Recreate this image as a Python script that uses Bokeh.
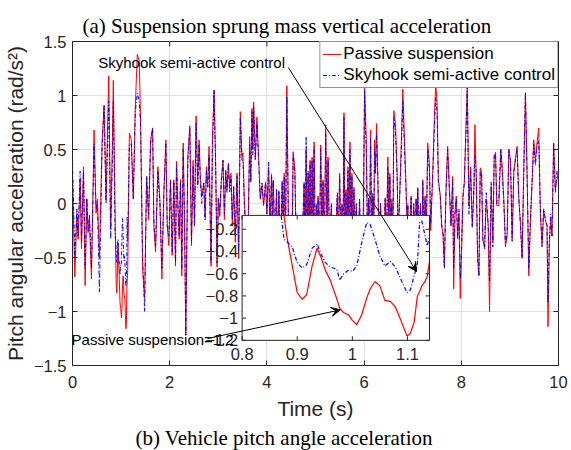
import numpy as np
from bokeh.plotting import figure
from bokeh.models import (Range1d, Label, Arrow, VeeHead, Legend, LegendItem,
                          ColumnDataSource, FixedTicker, Title)
from bokeh.embed import file_html
from bokeh.resources import INLINE
from bokeh.core.properties import value

# ---------------- data ----------------
time_s = [
    0.000, 0.048, 0.089, 0.116, 0.157, 0.185, 0.226, 0.260, 0.294, 0.321,
    0.349, 0.390, 0.444, 0.485, 0.513, 0.554, 0.608, 0.650, 0.690, 0.745,
    0.786,
    0.800, 0.820, 0.840, 0.860, 0.871, 0.876, 0.881, 0.891, 0.900, 0.909,
    0.917, 0.927, 0.936, 0.943, 0.951, 0.960, 0.972, 0.977, 0.984, 0.993,
    1.000, 1.008, 1.017, 1.026, 1.032, 1.041, 1.050, 1.059, 1.069, 1.078,
    1.088, 1.099, 1.105, 1.112, 1.118, 1.122, 1.126, 1.132, 1.136, 1.140,
    1.170, 1.210, 1.251, 1.292, 1.333, 1.374, 1.402, 1.443, 1.484, 1.525,
    1.566, 1.607, 1.648, 1.675, 1.709, 1.757, 1.798, 1.839, 1.880, 1.921,
    1.949, 1.983, 2.017, 2.051, 2.085, 2.120, 2.140, 2.168, 2.195, 2.222,
    2.249, 2.277, 2.304, 2.331, 2.373, 2.414, 2.448, 2.482, 2.510, 2.543,
    2.577, 2.605, 2.632, 2.660, 2.701, 2.728, 2.755, 2.783, 2.810, 2.851,
    2.879, 2.913, 2.947, 2.974, 3.001, 3.029, 3.063, 3.097, 3.125, 3.152,
    3.179, 3.207, 3.234, 3.261, 3.289, 3.316, 3.350, 3.385, 3.419, 3.453,
    3.487, 3.508, 3.535, 3.563, 3.600, 3.645, 3.668, 3.693, 3.710, 3.727,
    3.761, 3.795, 3.829, 3.864, 3.898, 3.932, 3.973, 4.000, 4.035, 4.062,
    4.096, 4.113, 4.130, 4.164, 4.198, 4.219, 4.246, 4.280, 4.315, 4.335,
    4.356, 4.383, 4.410, 4.451, 4.506, 4.540, 4.575, 4.610, 4.677, 4.720,
    4.766, 4.787, 4.807, 4.827, 4.848, 4.868, 4.889, 4.909, 4.930, 4.950,
    4.971, 4.998, 5.018, 5.039, 5.052, 5.080, 5.107, 5.135, 5.155, 5.182,
    5.210, 5.237, 5.258, 5.292, 5.326, 5.360, 5.395, 5.450, 5.470, 5.497,
    5.525, 5.545, 5.566, 5.586, 5.607, 5.627, 5.648, 5.668, 5.689, 5.709,
    5.730, 5.750, 5.770, 5.791, 5.810, 5.839, 5.873, 5.907, 5.940, 5.980,
    6.010, 6.044, 6.072, 6.092, 6.113, 6.133, 6.160, 6.181, 6.200, 6.215,
    6.235, 6.256, 6.284, 6.310, 6.338, 6.386, 6.434, 6.460, 6.489, 6.510,
    6.530, 6.550, 6.571, 6.590, 6.612, 6.646, 6.680, 6.700, 6.728, 6.762,
    6.797, 6.831, 6.865, 6.885, 6.899, 6.930, 6.967, 6.990, 7.022, 7.050,
    7.070, 7.090, 7.104, 7.130, 7.159, 7.190, 7.207, 7.230, 7.255, 7.280,
    7.309, 7.344, 7.370, 7.412, 7.446, 7.473, 7.501, 7.528, 7.569, 7.597,
    7.624, 7.651, 7.685, 7.719, 7.754, 7.788, 7.822, 7.843, 7.870, 7.897,
    7.925, 7.952, 7.979, 8.006, 8.034, 8.062, 8.096, 8.123, 8.157, 8.192,
    8.226, 8.260, 8.280, 8.308, 8.335, 8.362, 8.390, 8.417, 8.444, 8.479,
    8.513, 8.554, 8.581, 8.615, 8.650, 8.677, 8.704, 8.731, 8.772, 8.813,
    8.841, 8.875, 8.909, 8.944, 8.978, 9.012, 9.046, 9.080, 9.115, 9.149,
    9.183, 9.217, 9.251, 9.286, 9.320, 9.354, 9.388, 9.422, 9.456, 9.490,
    9.525, 9.559, 9.593, 9.627, 9.661, 9.696, 9.730, 9.764, 9.784, 9.812,
    9.839, 9.866, 9.900, 9.935, 9.969, 10.000,
]

passive = [
    0.25, -0.68, -0.09, -0.33, 0.22, -0.42, 0.34, -0.76, 0.04, -0.27,
    -0.15, -0.70, 0.68, -0.09, 0.04, -0.51, 0.57, 0.91, 0.04, 1.18,
    -0.24,
    0.10, 0.55, 1.14, 0.45, 0.10, -0.08, -0.26, -0.53, -0.77, -0.83,
    -0.79, -0.53, -0.37, -0.45, -0.57, -0.66, -0.83, -0.91, -0.95, -0.97,
    -1.02, -1.06, -0.97, -0.82, -0.74, -0.67, -0.71, -0.84, -0.85, -0.90,
    -1.02, -1.16, -1.14, -1.04, -0.80, -0.76, -0.71, -0.67, -0.62, -0.49,
    0.65, 0.59, 0.04, 0.89, 1.38, 1.32, 0.74, -0.61, -0.88, 0.25,
    -0.15, 0.59, 0.70, -0.21, -0.45, 0.34, 0.04, -0.70, 0.10, 0.59,
    -0.21, -0.39, 0.22, -0.48, 0.22, -0.58, 0.39, -0.02, -0.33, 0.22,
    -0.67, 0.56, -0.15, -1.22, 0.43, 0.72, -0.39, 0.40, -0.21, 0.81,
    0.19, 0.59, 0.22, 0.07, 0.19, -0.12, 0.34, 0.16, 0.53, -0.58,
    0.59, 1.05, 0.34, -0.59, 0.04, -0.12, 0.22, 0.40, -0.15, 0.31,
    0.13, 0.37, 0.16, 0.28, -0.21, 0.16, -0.36, 0.28, -0.51, 0.85,
    0.43, 0.47, 0.04, -0.21, -0.65, 0.62, 0.20, 0.88, 0.50, 0.94,
    0.43, 0.80, 0.43, 0.04, 0.16, -0.02, 0.19, -0.09, 0.34, -0.25,
    0.25, -0.30, 0.21, -0.40, 0.11, -0.50, 0.11, -0.45, 0.21, -0.30,
    0.28, -0.35, 1.09, -0.50, -0.80, 0.48, 0.31, -0.60, -0.90, -0.50,
    0.19, -0.40, 0.50, -0.40, 0.28, -0.30, 0.40, -0.40, 0.43, -0.30,
    0.57, -0.50, -0.02, -0.40, 0.07, -0.50, 0.54, -0.40, 0.22, -0.50,
    0.73, -0.30, 0.43, -0.50, -0.02, -0.70, -0.50, 0.07, -0.40, 0.28,
    -0.50, -0.02, -0.40, 0.84, -0.50, 0.13, -0.40, 0.34, -0.30, 0.57,
    -0.40, 0.28, -0.50, 0.13, -0.40, -0.02, -0.60, 0.01, -0.70, -0.30,
    1.08, 0.59, -0.40, 0.04, -0.40, 0.68, -0.50, 0.07, -0.30, 0.59,
    0.30, 0.74, 0.22, -0.50, -0.02, -0.70, 0.04, -0.40, 0.43, -0.30,
    0.28, -0.40, 0.04, -0.50, 0.86, 0.74, 0.28, -0.30, 0.02, 0.50,
    1.06, 0.59, 0.13, -0.30, -0.02, -0.50, 0.07, -0.40, -0.02, -0.50,
    0.04, -0.30, 0.13, -0.40, -0.02, -0.50, 0.22, -0.40, 0.07, -0.30,
    0.56, 0.37, -0.25, 0.28, 0.80, 1.10, 0.95, 0.22, 0.07, -0.21,
    -0.30, -0.58, 0.13, 0.53, 0.13, -0.21, 0.25, -0.79, -0.09, 0.07,
    -0.33, -0.09, -0.88, -0.45, 0.07, 0.19, 0.71, 1.08, -0.02, 0.34,
    -0.21, 0.13, 0.73, 0.22, -0.48, -0.67, 0.33, 0.28, -0.33, -0.42,
    0.04, -0.21, -1.00, 0.16, -0.36, 0.43, 0.47, -0.02, -0.02, 0.50,
    0.34, 0.04, -0.39, -0.30, 0.50, 0.40, -0.33, 0.28, 0.43, 0.53,
    0.04, -0.18, -0.51, 0.34, 1.02, 0.28, -0.67, -0.18, 0.19, 0.59,
    0.40, 0.56, 0.70, -0.09, -0.38, -0.07, -0.15, -0.21, -1.14, -0.36,
    -0.15, -0.30, 0.56, 0.13, 0.22, 0.30,
]

skyhook = [
    0.39, -0.50, -0.05, -0.30, 0.30, -0.35, 0.30, -0.60, 0.05, -0.25,
    -0.10, -0.60, 0.55, -0.05, 0.00, -0.82, 0.50, 0.90, 0.00, 0.95,
    -0.33,
    0.00, 0.35, 0.95, 0.30, -0.08, -0.29, -0.31, -0.36, -0.50, -0.55,
    -0.52, -0.37, -0.33, -0.42, -0.50, -0.54, -0.56, -0.66, -0.60, -0.57,
    -0.58, -0.53, -0.32, -0.14, -0.155, -0.29, -0.44, -0.53, -0.49, -0.54,
    -0.65, -0.77, -0.75, -0.62, -0.51, -0.14, -0.125, -0.26, -0.35, -0.26,
    0.55, 0.55, 0.05, 0.85, 1.02, 0.95, 0.70, -0.50, -1.00, 0.25,
    -0.10, 0.55, 0.70, -0.20, -0.40, 0.30, 0.00, -0.60, 0.10, 0.55,
    -0.20, -0.30, 0.20, -0.45, 0.20, -0.55, 0.35, 0.00, -0.30, 0.20,
    -0.60, 0.50, -0.10, -1.20, 0.40, 0.70, -0.35, 0.35, -0.20, 0.75,
    0.15, 0.55, 0.20, 0.00, 0.20, -0.16, 0.30, 0.15, 0.45, -0.55,
    0.50, 1.05, 0.30, -0.55, 0.05, -0.10, 0.20, 0.40, -0.10, 0.30,
    0.10, 0.37, 0.10, 0.25, -0.15, 0.15, -0.30, 0.25, -0.45, 0.80,
    0.40, 0.40, 0.00, -0.30, -0.60, 0.55, 0.20, 0.85, 0.45, 0.90,
    0.40, 0.75, 0.40, 0.05, 0.20, 0.00, 0.20, -0.10, 0.38, -0.20,
    0.28, -0.25, 0.22, -0.35, 0.14, -0.45, 0.12, -0.40, 0.20, -0.30,
    0.25, -0.30, 0.99, -0.45, -0.70, 0.45, 0.30, -0.50, -0.80, -0.45,
    0.20, -0.35, 0.62, -0.35, 0.30, -0.30, 0.38, -0.35, 0.40, -0.30,
    0.52, -0.45, 0.00, -0.35, 0.05, -0.45, 0.50, -0.35, 0.20, -0.45,
    0.65, -0.30, 0.40, -0.45, 0.00, -0.60, -0.45, 0.10, -0.35, 0.25,
    -0.45, 0.00, -0.35, 0.80, -0.45, 0.10, -0.35, 0.30, -0.30, 0.50,
    -0.35, 0.25, -0.45, 0.15, -0.35, 0.00, -0.50, 0.05, -0.60, -0.25,
    1.05, 0.50, -0.35, 0.05, -0.35, 0.60, -0.45, 0.10, -0.25, 0.50,
    0.28, 0.65, 0.20, -0.45, 0.00, -0.60, 0.05, -0.35, 0.34, -0.25,
    0.25, -0.35, 0.00, -0.45, 0.80, 0.65, 0.25, -0.25, 0.00, 0.45,
    0.95, 0.50, 0.10, -0.25, 0.00, -0.45, 0.05, -0.35, 0.00, -0.45,
    0.05, -0.25, 0.15, -0.35, 0.00, -0.45, 0.20, -0.35, 0.05, -0.25,
    0.50, 0.30, -0.20, 0.25, 0.70, 0.98, 0.85, 0.20, 0.05, -0.20,
    -0.25, -0.60, 0.10, 0.50, 0.15, -0.20, 0.20, -0.60, -0.10, 0.05,
    -0.30, -0.05, -0.70, -0.40, 0.05, 0.20, 0.65, 1.08, -0.10, 0.30,
    -0.22, 0.15, 0.45, 0.30, -0.50, -0.67, 0.30, 0.30, -0.35, -0.40,
    0.10, -0.20, -0.72, 0.20, -0.40, 0.45, 0.47, 0.00, 0.05, 0.50,
    0.30, 0.00, -0.40, -0.25, 0.50, 0.40, -0.35, 0.30, 0.40, 0.50,
    0.05, -0.20, -0.50, 0.30, 1.03, 0.25, -0.60, -0.15, 0.20, 0.55,
    0.35, 0.55, 0.58, -0.05, -0.40, -0.05, -0.15, -0.20, -0.92, -0.35,
    -0.10, -0.30, 0.56, 0.10, 0.30, 0.25,
]
assert len(time_s) == len(passive) == len(skyhook), (len(time_s), len(passive), len(skyhook))

series_names = ["Passive suspension", "Skyhook semi-active control"]
x_ticks = [0, 2, 4, 6, 8, 10]
x_tick_labels = ["0", "2", "4", "6", "8", "10"]
y_ticks = [-1.5, -1, -0.5, 0, 0.5, 1, 1.5]
y_tick_labels = ["\u22121.5", "\u22121", "\u22120.5", "0", "0.5", "1", "1.5"]
inset_x_ticks = [0.8, 0.9, 1.0, 1.1]
inset_x_labels = ["0.8", "0.9", "1", "1.1"]
inset_y_ticks = [-1.2, -1.0, -0.8, -0.6, -0.4, -0.2]
inset_y_labels = ["\u22121.2", "\u22121", "\u22120.8", "\u22120.6", "\u22120.4", "\u22120.2"]

# ---------------- layout / style ----------------
W, H = 571, 450
FL, FR, FT, FB = 72, 13, 41, 83
AX = "#262626"
SANS = "Liberation Sans"
SERIF = "Liberation Serif"
RED = "#ff0000"
BLUE = "#0000ff"
DASHDOT = "4 2 1 2"
X0, X1, Y0, Y1 = 0, 10, -1.5, 1.5

p = figure(width=W, height=H, x_range=Range1d(X0, X1), y_range=Range1d(Y0, Y1),
           output_backend="svg", toolbar_location=None,
           min_border_left=FL, min_border_right=FR, min_border_top=FT, min_border_bottom=FB,
           background_fill_color="white", border_fill_color="white",
           outline_line_color=AX)

p.title.text = "(a) Suspension sprung mass vertical acceleration"
p.title.text_font = SERIF
p.title.text_font_size = "21px"
p.title.text_font_style = "normal"
p.title.text_color = "black"
p.title.align = "left"
p.title.offset = 10
p.title.standoff = 8

bottom_title = Title(text="(b) Vehicle pitch angle acceleration", text_font=SERIF,
                     text_font_size="21px", text_font_style="normal", text_color="black",
                     align="left", offset=63, standoff=2)
p.add_layout(bottom_title, "below")

p.xaxis.ticker = FixedTicker(ticks=x_ticks)
p.yaxis.ticker = FixedTicker(ticks=y_ticks)
p.xaxis.major_label_overrides = dict(zip(x_ticks, x_tick_labels))
p.yaxis.major_label_overrides = dict(zip(y_ticks, y_tick_labels))
for ax in (p.xaxis[0], p.yaxis[0]):
    ax.major_tick_in = 5
    ax.major_tick_out = 0
    ax.minor_tick_line_color = None
    ax.axis_line_color = AX
    ax.major_tick_line_color = AX
    ax.major_label_text_font = SANS
    ax.major_label_text_font_size = "16.5px"
    ax.major_label_text_color = AX
    ax.axis_label_text_font = SANS
    ax.axis_label_text_font_size = "21px"
    ax.axis_label_text_font_style = "normal"
    ax.axis_label_text_color = AX
p.xaxis.axis_label = "Time (s)"
p.yaxis.axis_label = "Pitch angular acceleration (rad/s\u00b2)"
p.xaxis.major_label_standoff = 10
p.yaxis.major_label_standoff = 6
p.xaxis.axis_label_standoff = 6
p.yaxis.axis_label_standoff = 4

p.xgrid.ticker = FixedTicker(ticks=x_ticks)
p.ygrid.ticker = FixedTicker(ticks=y_ticks)
p.grid.grid_line_color = "#e2e2e2"
p.grid.grid_line_width = 1

# box ticks on top and right edges
p.ray(x=x_ticks, y=[Y1] * len(x_ticks), length=5, length_units="screen",
      angle=-np.pi / 2, line_color=AX)
p.ray(x=[X1] * len(y_ticks), y=y_ticks, length=5, length_units="screen",
      angle=np.pi, line_color=AX)

src = ColumnDataSource(dict(t=time_s, a=passive, b=skyhook))
r1 = p.line("t", "a", source=src, line_color=RED, line_width=1)
r2 = p.line("t", "b", source=src, line_color=BLUE, line_width=1, line_dash=DASHDOT)

# ---------------- inset (zoom of 0.8 - 1.14 s) ----------------
ix0, ix1 = 0.8, 1.14
iy0, iy1 = -1.2, -0.075
ins = p.subplot(x_source=Range1d(ix0, ix1), y_source=Range1d(iy0, iy1),
                x_target=Range1d(3.49, 7.346), y_target=Range1d(-1.267, -0.110))
ins.quad(left=[ix0], right=[ix1], bottom=[iy0], top=[iy1], fill_color="white", line_color=None)


def window(vals):
    idx = [i for i, t in enumerate(time_s) if ix0 <= t <= ix1 and iy0 <= vals[i] <= iy1]
    return dict(t=[time_s[i] for i in idx], v=[vals[i] for i in idx])


ins.line("t", "v", source=ColumnDataSource(window(passive)), line_color=RED, line_width=1.2)
ins.line("t", "v", source=ColumnDataSource(window(skyhook)), line_color=BLUE, line_width=1.2,
         line_dash=DASHDOT)
ins.quad(left=[ix0], right=[ix1], bottom=[iy0], top=[iy1], fill_color=None, line_color=AX,
         line_width=1)
ny, nx = len(inset_y_ticks), len(inset_x_ticks)
ins.ray(x=[ix0] * ny, y=inset_y_ticks, length=4, length_units="screen", angle=0, line_color=AX)
ins.ray(x=[ix1] * ny, y=inset_y_ticks, length=4, length_units="screen", angle=np.pi, line_color=AX)
ins.ray(x=inset_x_ticks, y=[iy0] * nx, length=4, length_units="screen", angle=np.pi / 2, line_color=AX)
ins.ray(x=inset_x_ticks, y=[iy1] * nx, length=4, length_units="screen", angle=-np.pi / 2, line_color=AX)
ins.text(x=[ix0] * ny, y=inset_y_ticks, text=inset_y_labels, x_offset=-4,
         text_align="right", text_baseline="middle", text_font=value(SANS),
         text_font_size="16.5px", text_color=AX)
ins.text(x=inset_x_ticks, y=[iy0] * nx, text=inset_x_labels, y_offset=8,
         text_align="center", text_baseline="top", text_font=value(SANS),
         text_font_size="16.5px", text_color=AX)

# ---------------- annotations ----------------
p.add_layout(Label(x=0.53, y=1.307, text=series_names[1], text_font=SANS,
                   text_font_size="15px", text_baseline="middle", text_align="left",
                   text_color="black"))
p.add_layout(Label(x=-0.02, y=-1.261, text="Passive suspension=1.2", text_font=SANS,
                   text_font_size="15px", text_baseline="middle", text_align="left",
                   text_color="black"))
p.add_layout(Arrow(x_start=4.44, y_start=1.26, x_end=7.08, y_end=-0.63,
                   line_color="black", line_width=1,
                   end=VeeHead(size=9, fill_color="black", line_color="black")))
p.add_layout(Arrow(x_start=2.78, y_start=-1.25, x_end=5.51, y_end=-0.985,
                   line_color="black", line_width=1,
                   end=VeeHead(size=9, fill_color="black", line_color="black")))

leg = Legend(items=[LegendItem(label=series_names[0], renderers=[r1]),
                    LegendItem(label=series_names[1], renderers=[r2])],
             location="top_right", margin=0, padding=2, spacing=1,
             glyph_width=19, glyph_height=20, label_height=20, label_standoff=2,
             label_text_font=SANS, label_text_font_size="17px", label_text_color="black",
             border_line_color=AX, border_line_width=1, background_fill_alpha=1.0)
p.add_layout(leg)

open("out.html", "w").write(file_html(p, INLINE))
